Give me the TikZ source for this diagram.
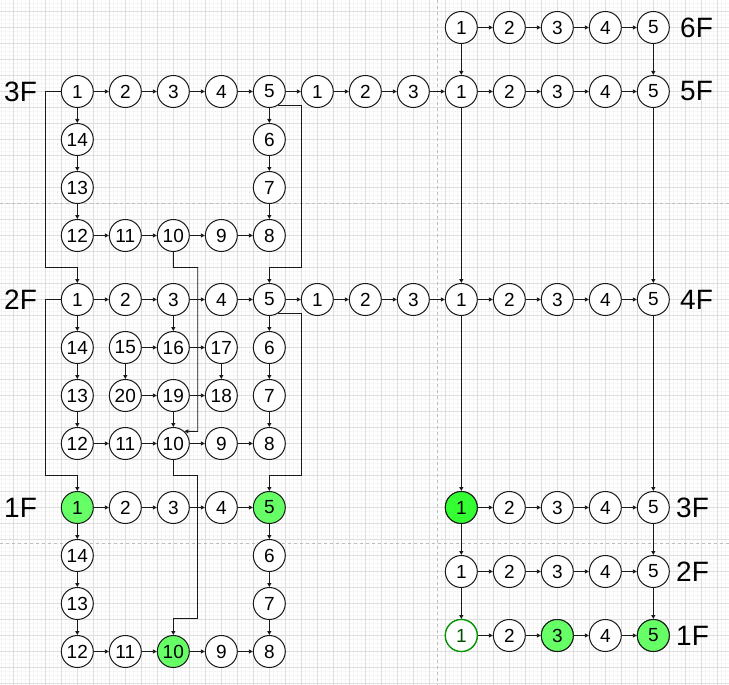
\documentclass[tikz,border=0pt]{standalone}
\usepackage{fontspec}
\setmainfont{Liberation Sans}
\usetikzlibrary{arrows.meta}
\definecolor{gmin}{RGB}{245,245,245}
\definecolor{gmaj}{RGB}{222,222,222}
\definecolor{pagebrk}{RGB}{190,190,190}
\definecolor{lgreen}{RGB}{102,255,102}
\definecolor{bgreen}{RGB}{51,255,51}
\definecolor{dgreen}{RGB}{0,153,0}
\definecolor{tgreen}{RGB}{0,80,0}
\definecolor{edge}{RGB}{25,25,25}
\begin{document}
\begin{tikzpicture}[x=1pt,y=-1pt,
  st/.style={circle,draw=edge,line width=1pt,fill=white,minimum size=32pt,inner sep=0pt,font=\fontsize{19}{19}\selectfont},
  gr/.style={st,fill=lgreen},
  arr/.style={draw=edge,line width=0.9pt,-{Triangle[length=4pt,width=4pt]}},
  flr/.style={font=\fontsize{28}{28}\selectfont,inner sep=0pt,anchor=west}]
\useasboundingbox (0,0) rectangle (729,685);
\fill[white] (0,0) rectangle (729,685);
% background grid
\foreach \xx in {1.3,5.3,...,729} \draw[gmin,line width=0.8pt] (\xx,0) -- (\xx,685);
\foreach \yy in {3.5,7.5,...,685} \draw[gmin,line width=0.8pt] (0,\yy) -- (729,\yy);
\foreach \xx in {13.3,29.3,...,729} \draw[gmaj,line width=0.8pt] (\xx,0) -- (\xx,685);
\foreach \yy in {11.5,27.5,...,685} \draw[gmaj,line width=0.8pt] (0,\yy) -- (729,\yy);
% page breaks
\draw[pagebrk,line width=0.8pt,dash pattern=on 3pt off 3pt] (437,0) -- (437,685);
\draw[pagebrk,line width=0.8pt,dash pattern=on 3pt off 3pt] (0,203) -- (729,203);
\draw[pagebrk,line width=0.8pt,dash pattern=on 3pt off 3pt] (0,543) -- (729,543);

% left blocks
\foreach \p/\y/\g in {a/91.5/st,b/299.5/st,c/507.5/gr}{
  \node[\g] (\p1) at (77.3,\y) {1};
  \node[st] (\p2) at (125.3,\y) {2};
  \node[st] (\p3) at (173.3,\y) {3};
  \node[st] (\p4) at (221.3,\y) {4};
  \node[\g] (\p5) at (269.3,\y) {5};
  \node[st] (\p6) at (269.3,{\y+48}) {6};
  \node[st] (\p7) at (269.3,{\y+96}) {7};
  \node[st] (\p8) at (269.3,{\y+144}) {8};
  \node[st] (\p9) at (221.3,{\y+144}) {9};
  \node[\g] (\p10) at (173.3,{\y+144}) {10};
  \node[st] (\p11) at (125.3,{\y+144}) {11};
  \node[st] (\p12) at (77.3,{\y+144}) {12};
  \node[st] (\p13) at (77.3,{\y+96}) {13};
  \node[st] (\p14) at (77.3,{\y+48}) {14};
  \draw[arr] (\p1) -- (\p2);
  \draw[arr] (\p2) -- (\p3);
  \draw[arr] (\p3) -- (\p4);
  \draw[arr] (\p4) -- (\p5);
  \draw[arr] (\p5) -- (\p6);
  \draw[arr] (\p6) -- (\p7);
  \draw[arr] (\p7) -- (\p8);
  \draw[arr] (\p1) -- (\p14);
  \draw[arr] (\p14) -- (\p13);
  \draw[arr] (\p13) -- (\p12);
  \draw[arr] (\p12) -- (\p11);
  \draw[arr] (\p11) -- (\p10);
  \draw[arr] (\p10) -- (\p9);
  \draw[arr] (\p9) -- (\p8);
}
% 2F extra nodes
\node[st] (b15) at (125.3,347.5) {15};
\node[st] (b16) at (173.3,347.5) {16};
\node[st] (b17) at (221.3,347.5) {17};
\node[st] (b18) at (221.3,395.5) {18};
\node[st] (b19) at (173.3,395.5) {19};
\node[st] (b20) at (125.3,395.5) {20};
\draw[arr] (b3) -- (b16);
\draw[arr] (b15) -- (b16);
\draw[arr] (b16) -- (b17);
\draw[arr] (b17) -- (b18);
\draw[arr] (b15) -- (b20);
\draw[arr] (b20) -- (b19);
\draw[arr] (b19) -- (b18);
\draw[arr] (b19) -- (b10);

% middle links
\foreach \p/\y in {a/91.5,b/299.5}{
  \node[st] (\p m1) at (317.3,\y) {1};
  \node[st] (\p m2) at (365.3,\y) {2};
  \node[st] (\p m3) at (413.3,\y) {3};
  \draw[arr] (\p5) -- (\p m1);
  \draw[arr] (\p m1) -- (\p m2);
  \draw[arr] (\p m2) -- (\p m3);
}

% right column
\foreach \r/\y in {6/27.5,5/91.5,4/299.5,3/507.5,2/571.5,1/635.5}{
  \node[st] (R\r1) at (461.3,\y) {1};
  \node[st] (R\r2) at (509.3,\y) {2};
  \node[st] (R\r3) at (557.3,\y) {3};
  \node[st] (R\r4) at (605.3,\y) {4};
  \node[st] (R\r5) at (653.3,\y) {5};
  \draw[arr] (R\r1) -- (R\r2);
  \draw[arr] (R\r2) -- (R\r3);
  \draw[arr] (R\r3) -- (R\r4);
  \draw[arr] (R\r4) -- (R\r5);
}
\node[st,fill=bgreen] at (R31) {1};
\node[st,draw=dgreen,line width=1.3pt,text=tgreen] at (R11) {1};
\node[gr] at (R13) {3};
\node[gr] at (R15) {5};
\draw[arr] (am3) -- (R51);
\draw[arr] (bm3) -- (R41);
\foreach \u/\d in {6/5,5/4,4/3,3/2,2/1}{
  \draw[arr] (R\u1) -- (R\d1);
  \draw[arr] (R\u5) -- (R\d5);
}

% floor-to-floor routes on the left
\draw[arr] (a1.west) -| (45.3,267.5) -| (b1);
\draw[arr] (a10.south) |- (197.7,267.5) -- (197.7,431.5) -- (b10.48);
\draw[arr] (a5.-60) -| (301.5,267.5) -| (b5);
\draw[arr] (b1.west) -| (45.3,475.5) -| (c1);
\draw[arr] (b10.south) |- (197.7,475.5) |- (173.3,618.3) -- (c10);
\draw[arr] (b5.-60) -| (301.5,475.5) -| (c5);

% floor labels
\node[flr] (L3) at (4,91.5) {3F};
\node[flr] (L2) at (4,299.5) {2F};
\node[flr] (L1) at (4,507.5) {1F};
\node[flr] (R6L) at (680,27.5) {6F};
\node[flr] (R5L) at (680,91.5) {5F};
\node[flr] (R4L) at (680,299.5) {4F};
\node[flr] (R3L) at (676,507.5) {3F};
\node[flr] (R2L) at (676,571.5) {2F};
\node[flr] (R1L) at (676,635.5) {1F};
\end{tikzpicture}
\end{document}
